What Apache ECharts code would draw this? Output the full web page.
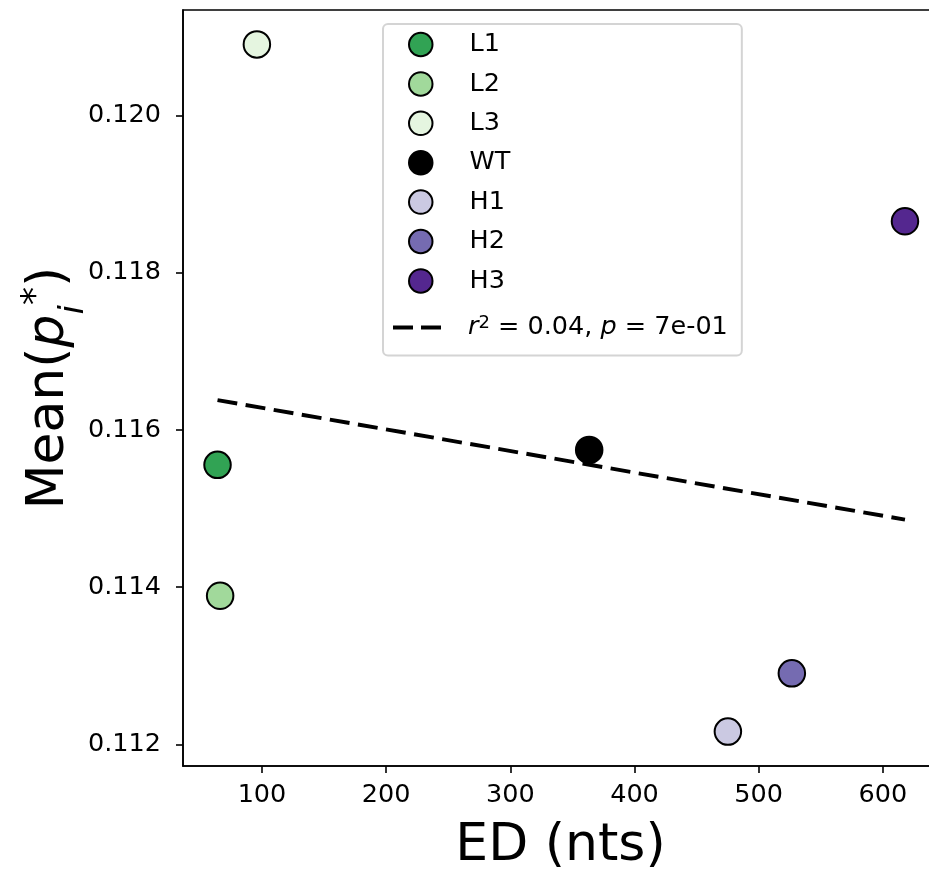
<!DOCTYPE html>
<html>
<head>
<meta charset="utf-8">
<script src="https://cdn.jsdelivr.net/npm/echarts@6/dist/echarts.min.js"></script>
<style>html,body{margin:0;padding:0;background:#fff;}#c{width:929px;height:871px;}</style>
</head>
<body>
<div id="c"></div>
<script>
const categories = ['L1', 'L2', 'L3', 'WT', 'H1', 'H2', 'H3'];
const edValues = [64.2, 66.3, 95.9, 363.5, 475.2, 526.7, 617.8];
const meanValues = [0.115556, 0.113892, 0.120902, 0.115746, 0.112165, 0.112905, 0.118654];
const fitX = [64.2, 617.8];
const fitY = [0.11638, 0.11486];
const xTicks = [100, 200, 300, 400, 500, 600];
const yTicks = [0.112, 0.114, 0.116, 0.118, 0.120];
const fitLabel = 'r2 = 0.04, p = 7e-01';

const pointColors = ['#31a354', '#a1d99b', '#e5f5e0', '#000000', '#cbc9e2', '#756bb1', '#54278f'];
const FONT = 'DejaVu Sans';
const LFS = 25.5;

const chart = echarts.init(document.getElementById('c'), null, {renderer: 'canvas'});

const scatterSeries = categories.map((name, i) => ({
  name: name,
  type: 'scatter',
  data: [[edValues[i], meanValues[i]]],
  symbol: 'circle',
  symbolSize: 26.5,
  itemStyle: {color: pointColors[i], borderColor: '#000', borderWidth: 2, opacity: 1},
  z: 3
}));

const fitSeries = {
  name: fitLabel,
  type: 'line',
  data: fitX.map((x, i) => [x, fitY[i]]),
  symbol: 'none',
  showSymbol: false,
  lineStyle: {color: '#000', width: 3.9, type: [20, 8.5]},
  itemStyle: {color: '#000'},
  z: 2,
  silent: true
};

const option = {
  animation: false,
  backgroundColor: '#fff',
  grid: {left: 183, top: 10, width: 755, height: 756, show: true, borderColor: '#000', borderWidth: 1.6,
         backgroundColor: 'transparent', containLabel: false, outerBoundsMode: 'none'},
  xAxis: {
    type: 'value',
    min: 36.4, max: 644.4,
    name: 'ED (nts)',
    nameLocation: 'middle',
    nameGap: 54,
    nameMoveOverlap: false,
    nameTextStyle: {fontFamily: FONT, fontSize: 52, color: '#000'},
    axisLine: {show: true, lineStyle: {color: '#000', width: 1.6}},
    axisTick: {show: true, length: 7, lineStyle: {color: '#000', width: 1.6}, customValues: xTicks},
    axisLabel: {show: true, fontFamily: FONT, fontSize: 25.5, color: '#000', margin: 16, customValues: xTicks, formatter: v => String(v)},
    splitLine: {show: false}
  },
  yAxis: {
    type: 'value',
    min: 0.111727, max: 0.12134,
    name: '{t|Mean(}{i|p}{sub|i}{sup|*}{t|)}',
    nameLocation: 'middle',
    nameGap: 104,
    nameMoveOverlap: false,
    nameTextStyle: {
      fontFamily: FONT, fontSize: 52, color: '#000',
      rich: {
        t: {fontFamily: FONT, fontSize: 52, color: '#000', lineHeight: 60},
        i: {fontFamily: FONT, fontSize: 52, fontStyle: 'italic', color: '#000', lineHeight: 60},
        sub: {fontFamily: FONT, fontSize: 34, fontStyle: 'italic', color: '#000', verticalAlign: 'bottom', lineHeight: 60, padding: [0, 0, -12, 0]},
        sup: {fontFamily: FONT, fontSize: 36, color: '#000', verticalAlign: 'top', lineHeight: 60}
      }
    },
    axisLine: {show: true, lineStyle: {color: '#000', width: 1.6}},
    axisTick: {show: true, length: 7, lineStyle: {color: '#000', width: 1.6}, customValues: yTicks},
    axisLabel: {show: true, fontFamily: FONT, fontSize: 25.5, color: '#000', margin: 22, customValues: yTicks, formatter: v => Number(v).toFixed(3)},
    splitLine: {show: false}
  },
  legend: [
    {
      data: categories.map(n => ({name: n, icon: 'circle'})),
      orient: 'vertical',
      left: 408, top: 31.5,
      padding: 0,
      itemWidth: 23.5, itemHeight: 23.5,
      itemGap: 13.4,
      selectedMode: false,
      z: 6,
      formatter: name => '{t|' + name + '}',
      textStyle: {
        fontFamily: FONT, fontSize: LFS, color: '#000', lineHeight: 26,
        rich: {t: {fontFamily: FONT, fontSize: LFS, color: '#000', lineHeight: 26, padding: [0, 0, 0, 32]}}
      }
    },
    {
      data: [{name: fitLabel, icon: 'path://M0,0L20,0L20,4L0,4ZM28,0L48,0L48,4L28,4Z', itemStyle: {color: '#000'}}],
      orient: 'vertical',
      left: 383, top: 24,
      padding: [290.5, 14, 15, 10],
      itemWidth: 48, itemHeight: 4,
      selectedMode: false,
      backgroundColor: 'rgba(255,255,255,0.85)',
      borderColor: '#d4d4d4',
      borderWidth: 2,
      borderRadius: 5,
      z: 5,
      formatter: () => '{i0|r}{sup|2}{t| = 0.04, }{i|p}{t| = 7e-01}',
      textStyle: {
        fontFamily: FONT, fontSize: LFS, color: '#000', lineHeight: 26,
        rich: {
          t: {fontFamily: FONT, fontSize: LFS, color: '#000', lineHeight: 26},
          i0: {fontFamily: FONT, fontSize: LFS, fontStyle: 'italic', color: '#000', lineHeight: 26, padding: [0, 0, 0, 22]},
          i: {fontFamily: FONT, fontSize: LFS, fontStyle: 'italic', color: '#000', lineHeight: 26},
          sup: {fontFamily: FONT, fontSize: 18, color: '#000', verticalAlign: 'top', lineHeight: 26}
        }
      }
    }
  ],
  series: [fitSeries].concat(scatterSeries)
};

chart.setOption(option);
</script>
</body>
</html>
